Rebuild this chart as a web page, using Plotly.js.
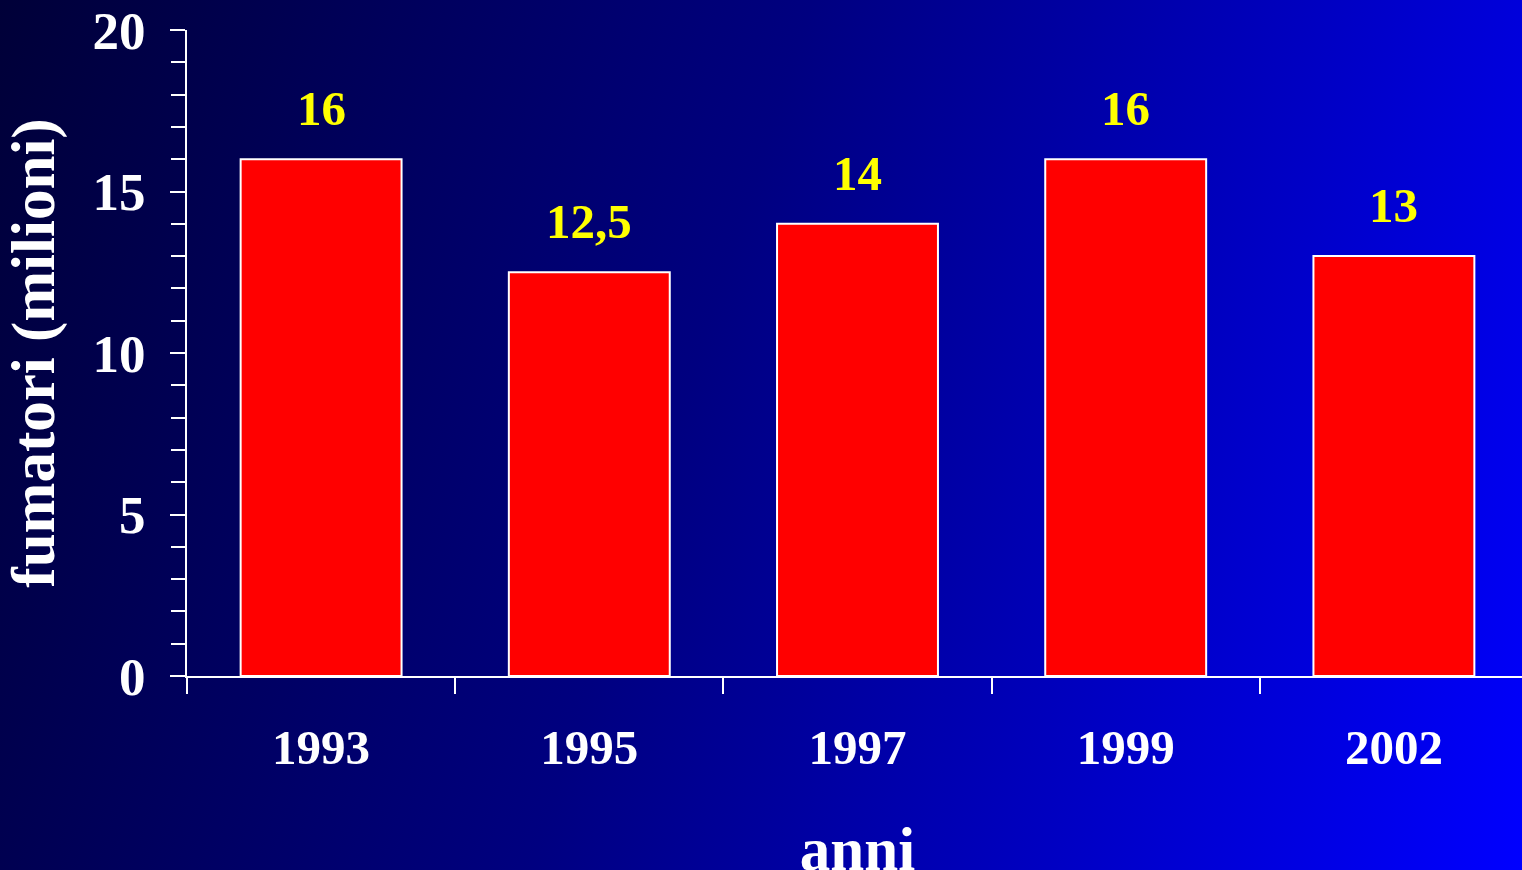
<!DOCTYPE html>
<html>
<head>
<meta charset="utf-8">
<script src="https://cdn.plot.ly/plotly-3.0.1.min.js"></script>
<style>
  html, body { margin: 0; padding: 0; width: 1522px; height: 870px; overflow: hidden;
    background: linear-gradient(108deg, #000038 0%, #000080 45%, #0000ff 100%); }
  #chart { width: 1528px; height: 900px; }
</style>
</head>
<body>
<div id="chart"></div>
<script>
const years = ["1993", "1995", "1997", "1999", "2002"];
const smokers = [16, 12.5, 14, 16, 13];
const valueLabels = ["16", "12,5", "14", "16", "13"];
const yTitle = "fumatori (milioni)";
const xTitle = "anni";

const font = "Liberation Serif, Times New Roman, serif";

const trace = {
  type: "bar",
  x: years,
  y: smokers,
  width: 0.6,
  marker: { color: "#ff0000", line: { color: "#ffffff", width: 2 } },
  hoverinfo: "skip"
};

const annotations = years.map((yr, i) => ({
  x: i, y: smokers[i], xref: "x", yref: "y",
  text: "<b>" + valueLabels[i] + "</b>", showarrow: false,
  yanchor: "bottom", yshift: 21,
  font: { family: font, size: 49, color: "#ffff00" }
}));

const layout = {
  width: 1528, height: 900,
  margin: { l: 187, r: 0, t: 30, b: 224 },
  paper_bgcolor: "rgba(0,0,0,0)",
  plot_bgcolor: "rgba(0,0,0,0)",
  showlegend: false,
  bargap: 0.4,
  xaxis: {
    type: "category",
    range: [-0.5, 4.5],
    showgrid: false, zeroline: false,
    showline: true, linecolor: "#ffffff", linewidth: 2,
    ticks: "outside", tickson: "boundaries", ticklen: 16, tickwidth: 2, tickcolor: "#ffffff",
    ticklabelstandoff: 27,
    tickfont: { family: font, size: 49, color: "#ffffff", weight: "bold" },
    title: { text: xTitle, standoff: 54, font: { family: font, size: 61, color: "#ffffff", weight: "bold" } },
    fixedrange: true
  },
  yaxis: {
    range: [0, 20],
    dtick: 5, tick0: 0,
    showgrid: false, zeroline: false,
    showline: true, linecolor: "#ffffff", linewidth: 2,
    ticks: "outside", ticklen: 15, tickwidth: 2, tickcolor: "#ffffff",
    minor: { dtick: 1, ticks: "outside", ticklen: 14, tickwidth: 2, tickcolor: "#ffffff" },
    ticklabelstandoff: 14,
    tickfont: { family: font, size: 53, color: "#ffffff", weight: "bold" },
    title: { text: yTitle, standoff: 22, font: { family: font, size: 61, color: "#ffffff", weight: "bold" } },
    fixedrange: true
  },
  annotations: annotations
};

Plotly.newPlot("chart", [trace], layout, { displayModeBar: false, staticPlot: true });
</script>
</body>
</html>
